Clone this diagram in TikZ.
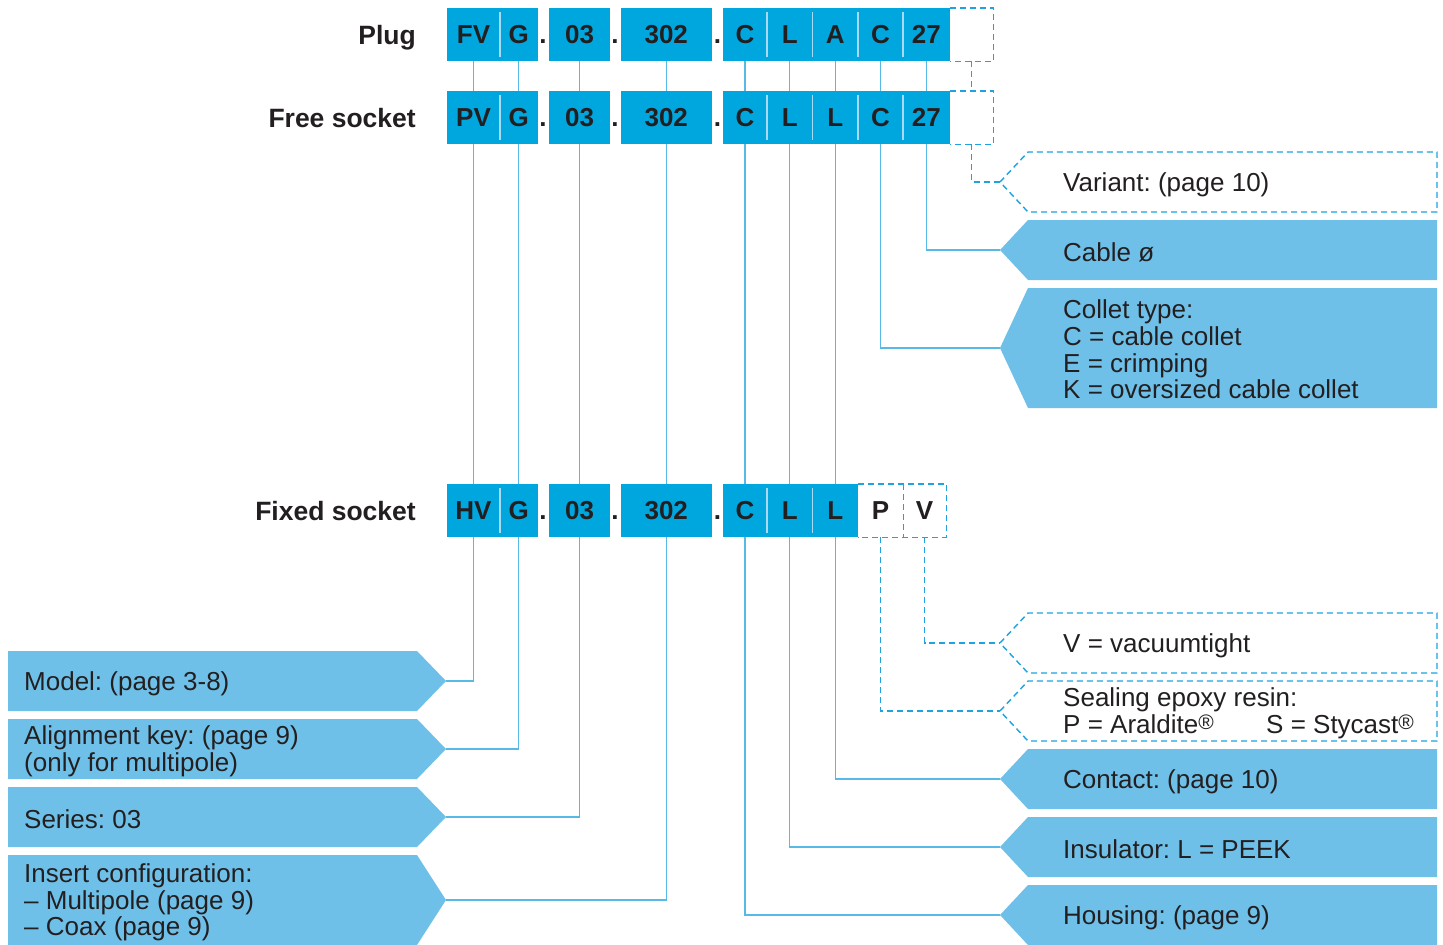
\documentclass[tikz,border=0pt]{standalone}
\usepackage{fontspec}
\setmainfont{Liberation Sans}
\usetikzlibrary{backgrounds}
\frenchspacing
\definecolor{codeblue}{HTML}{00A7DF}
\definecolor{lblblue}{HTML}{6FC0E8}
\definecolor{lineblue}{HTML}{58B8E6}
\definecolor{dashblue}{HTML}{1EA3DE}
\definecolor{divblue}{HTML}{A8DBF3}
\definecolor{ink}{HTML}{231F20}
\newcommand\Reg{\raisebox{4.5pt}{\fontsize{21}{21}\selectfont ®}}
\newcommand\RShape[3]{\path[#1] (1000,{(#2+#3)/2}) -- (1028,#2) -- (1437,#2) -- (1437,#3) -- (1028,#3) -- cycle;}
\newcommand\LShape[3]{\path[#1] (8,#2) -- (417,#2) -- (446,{(#2+#3)/2}) -- (417,#3) -- (8,#3) -- cycle;}
\tikzset{
  cell/.style={inner sep=0pt, minimum height=53pt, font=\fontsize{26}{26}\selectfont\bfseries, text=ink, text height=18.7pt, text depth=0pt},
  dotlbl/.style={inner sep=0pt, font=\fontsize{26}{26}\selectfont\bfseries, text=ink, text height=18.7pt, text depth=0pt},
  rowlbl/.style={anchor=east, inner sep=0pt, font=\fontsize{26.5}{26.5}\selectfont\bfseries, text=ink, text height=18.7pt, text depth=0pt},
  conn/.style={draw=lineblue, line width=1.4pt},
  dconn/.style={draw=dashblue, line width=1.4pt, dash pattern=on 6pt off 4pt},
  divline/.style={draw=divblue, line width=1.5pt},
  lbl/.style={anchor=west, inner sep=0pt, align=left, yshift=-2.5pt, font=\fontsize{26}{26.6}\selectfont, text=ink},
  solidshape/.style={fill=lblblue},
  dashshape/.style={fill=white, draw=dashblue, line width=1.4pt, dash pattern=on 6pt off 4pt},
}
\begin{document}
\begin{tikzpicture}[x=1pt,y=-1pt]
\useasboundingbox (0,0) rectangle (1443,945);

% ---------- row labels
\node[rowlbl] (lPlug) at (416,35) {Plug};
\node[rowlbl] (lFree) at (416,118) {Free socket};
\node[rowlbl] (lFixed) at (416,511) {Fixed socket};

% ---------- row 1 (Plug)
\node[cell, minimum width=53pt]   (a1) at (473.5,34.5) {FV};
\node[cell, minimum width=37.5pt] (a2) at (518.75,34.5) {G};
\node[cell, minimum width=60pt]   (a3) at (579.5,34.5) {03};
\node[cell, minimum width=90.5pt] (a4) at (666.25,34.5) {302};
\node[cell, minimum width=44pt]   (a5) at (745,34.5) {C};
\node[cell, minimum width=45.5pt] (a6) at (789.75,34.5) {L};
\node[cell, minimum width=45.5pt] (a7) at (835.25,34.5) {A};
\node[cell, minimum width=45pt]   (a8) at (880.5,34.5) {C};
\node[cell, minimum width=46.5pt] (a9) at (926.25,34.5) {27};
\node[cell, minimum width=44pt]   (a10) at (971.5,34.5) {};
\node[dotlbl] (ad1) at (543,34.5) {.};
\node[dotlbl] (ad2) at (615,34.5) {.};
\node[dotlbl] (ad3) at (717.5,34.5) {.};

% ---------- row 2 (Free socket)
\node[cell, minimum width=53pt]   (b1) at (473.5,117.5) {PV};
\node[cell, minimum width=37.5pt] (b2) at (518.75,117.5) {G};
\node[cell, minimum width=60pt]   (b3) at (579.5,117.5) {03};
\node[cell, minimum width=90.5pt] (b4) at (666.25,117.5) {302};
\node[cell, minimum width=44pt]   (b5) at (745,117.5) {C};
\node[cell, minimum width=45.5pt] (b6) at (789.75,117.5) {L};
\node[cell, minimum width=45.5pt] (b7) at (835.25,117.5) {L};
\node[cell, minimum width=45pt]   (b8) at (880.5,117.5) {C};
\node[cell, minimum width=46.5pt] (b9) at (926.25,117.5) {27};
\node[cell, minimum width=44pt]   (b10) at (971.5,117.5) {};
\node[dotlbl] (bd1) at (543,117.5) {.};
\node[dotlbl] (bd2) at (615,117.5) {.};
\node[dotlbl] (bd3) at (717.5,117.5) {.};

% ---------- row 3 (Fixed socket)
\node[cell, minimum width=53pt]   (c1) at (473.5,510.5) {HV};
\node[cell, minimum width=37.5pt] (c2) at (518.75,510.5) {G};
\node[cell, minimum width=60pt]   (c3) at (579.5,510.5) {03};
\node[cell, minimum width=90.5pt] (c4) at (666.25,510.5) {302};
\node[cell, minimum width=44pt]   (c5) at (745,510.5) {C};
\node[cell, minimum width=45.5pt] (c6) at (789.75,510.5) {L};
\node[cell, minimum width=45.5pt] (c7) at (835.25,510.5) {L};
\node[cell, minimum width=45pt]   (c8) at (880.5,510.5) {P};
\node[cell, minimum width=43pt]   (c9) at (924.5,510.5) {V};
\node[dotlbl] (cd1) at (543,510.5) {.};
\node[dotlbl] (cd2) at (615,510.5) {.};
\node[dotlbl] (cd3) at (717.5,510.5) {.};

% ---------- backgrounds of code boxes
\begin{pgfonlayer}{background}
  \foreach \r/\e in {a/9,b/9,c/7}{
    \fill[codeblue] (\r1.north west) rectangle (\r2.south east);
    \fill[codeblue] (\r3.north west) rectangle (\r3.south east);
    \fill[codeblue] (\r4.north west) rectangle (\r4.south east);
    \fill[codeblue] (\r5.north west) rectangle (\r\e.south east);
  }
\end{pgfonlayer}

% dividers
\foreach \r/\i in {a/1,a/5,a/6,a/7,a/8,b/1,b/5,b/6,b/7,b/8,c/1,c/5,c/6}{
  \draw[divline] ([yshift=-4pt]\r\i.north east) -- ([yshift=4pt]\r\i.south east);
}

% dashed empty boxes
\draw[dconn] (a9.north east) -- (a10.north east) -- (a10.south east) -- (a9.south east);
\draw[dconn] (b9.north east) -- (b10.north east) -- (b10.south east) -- (b9.south east);
\draw[dconn] (c8.north west) -- (c9.north east) -- (c9.south east) -- (c8.south west);
\draw[dconn] (c8.north east) -- (c8.south east);

% ---------- label shapes right
\RShape{dashshape}{152}{212}
\RShape{solidshape}{220}{280}
\RShape{solidshape}{288}{408}
\RShape{dashshape}{613}{673}
\RShape{dashshape}{681}{741}
\RShape{solidshape}{749}{809}
\RShape{solidshape}{817}{877}
\RShape{solidshape}{885}{945}
% ---------- label shapes left
\LShape{solidshape}{651}{711}
\LShape{solidshape}{719}{779}
\LShape{solidshape}{787}{847}
\LShape{solidshape}{855}{945}

% tip coordinates
\coordinate (tVariant) at (1000,182);
\coordinate (tCable) at (1000,250);
\coordinate (tCollet) at (1000,348);
\coordinate (tVac) at (1000,643);
\coordinate (tSeal) at (1000,711);
\coordinate (tContact) at (1000,779);
\coordinate (tInsul) at (1000,847);
\coordinate (tHousing) at (1000,915);
\coordinate (tModel) at (446,681);
\coordinate (tAlign) at (446,749);
\coordinate (tSeries) at (446,817);
\coordinate (tInsert) at (446,900);

% ---------- label texts
\node[lbl] (nVariant) at (1063,182) {Variant: (page 10)};
\node[lbl] (nCable) at (1063,250) {Cable ø};
\node[lbl] (nCollet) at (1063,347) {Collet type:\\C = cable collet\\E = crimping\\K = oversized cable collet};
\node[lbl] (nVac) at (1063,643) {V = vacuumtight};
\node[lbl] (nSeal) at (1063,711) {Sealing epoxy resin:\\\makebox[203pt][l]{P = Araldite\Reg}S = Stycast\Reg};
\node[lbl] (nContact) at (1063,779) {Contact: (page 10)};
\node[lbl] (nInsul) at (1063,847) {Insulator: L = PEEK};
\node[lbl] (nHousing) at (1063,915) {Housing: (page 9)};
\node[lbl] (nModel) at (24,681) {Model: (page 3-8)};
\node[lbl] (nAlign) at (24,749) {Alignment key: (page 9)\\(only for multipole)};
\node[lbl] (nSeries) at (24,817) {Series: 03};
\node[lbl] (nInsert) at (24,900) {Insert configuration:\\– Multipole (page 9)\\– Coax (page 9)};

% ---------- connectors
\foreach \i in {1,...,9}{ \draw[conn] (a\i.south) -- (b\i.north); }
\draw[dconn] (a10.south) -- (b10.north);
\foreach \i in {1,...,7}{ \draw[conn] (b\i.south) -- (c\i.north); }
\draw[conn] (b8.south) |- (tCollet);
\draw[conn] (b9.south) |- (tCable);
\draw[dconn] (b10.south) |- (tVariant);
\draw[conn] (c1.south) |- (tModel);
\draw[conn] (c2.south) |- (tAlign);
\draw[conn] (c3.south) |- (tSeries);
\draw[conn] (c4.south) |- (tInsert);
\draw[conn] (c5.south) |- (tHousing);
\draw[conn] (c6.south) |- (tInsul);
\draw[conn] (c7.south) |- (tContact);
\draw[dconn] (c8.south) |- (tSeal);
\draw[dconn] (c9.south) |- (tVac);
\end{tikzpicture}
\end{document}
